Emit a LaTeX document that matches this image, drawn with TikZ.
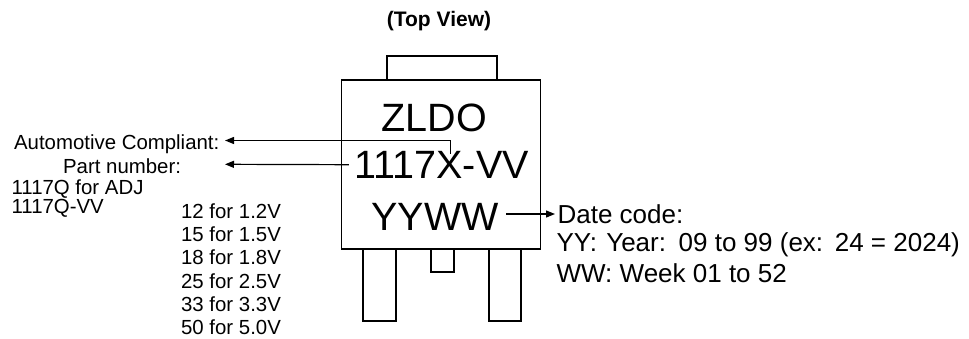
\documentclass[tikz,border=0pt]{standalone}
\usepackage{fontspec}
\setmainfont{Liberation Sans}
\usetikzlibrary{arrows.meta}

\begin{document}
\begin{tikzpicture}[x=1pt,y=-1pt,line width=1.2pt,
    >={Triangle[length=9pt,width=7pt]},
    note/.style={inner sep=0pt,font=\fontsize{20.4}{24}\selectfont},
    code/.style={inner sep=0pt,font=\fontsize{26}{31}\selectfont},
    chiptext/.style={inner sep=0pt,font=\fontsize{39.5}{47}\selectfont}]
        \useasboundingbox (0,0) rectangle (969,339);
        % package outline
        \node[inner sep=0pt,anchor=base,font=\bfseries\fontsize{21}{25}\selectfont] (title) at (439,26.7) {(Top View)};
        \draw (387,56) rectangle (497,80);
        \draw (341.5,80) rectangle (540.5,249);
        \draw (363,249) rectangle (396,321);
        \draw (431,249) rectangle (454,272);
        \draw (489,249) rectangle (521,321);
        % marking
        \node[chiptext,anchor=base] (zldo) at (434.5,131.5) {ZLDO};
        \node[chiptext,anchor=base] (part) at (441.6,178.3) {1117X-VV};
        \node[chiptext,anchor=base] (date) at (435,230) {YYWW};
        % left notes
        \node[note,anchor=base west] (auto) at (13.5,150) {Automotive Compliant:};
        \node[note,anchor=base west] (pnum) at (62.5,173.5) {Part number:};
        \node[note,anchor=base west] (adj) at (11,194.3) {1117Q for ADJ};
        \node[note,anchor=base west] (fix) at (11,214) {1117Q-VV};
        \node[note,anchor=base west] (v12) at (180.5,218.3) {12 for 1.2V};
        \node[note,anchor=base west] (v15) at (180.5,241.6) {15 for 1.5V};
        \node[note,anchor=base west] (v18) at (180.5,264.9) {18 for 1.8V};
        \node[note,anchor=base west] (v25) at (180.5,288.2) {25 for 2.5V};
        \node[note,anchor=base west] (v33) at (180.5,311.5) {33 for 3.3V};
        \node[note,anchor=base west] (v50) at (180.5,334.8) {50 for 5.0V};
        % date code notes
        \node[code,anchor=base west] (dlbl) at (557,223.3) {Date code:};
        \node[code,anchor=base west] (yy) at (556,251.7) {YY:\hspace{2pt} Year:\hspace{3pt} 09 to 99 (ex:\hspace{2pt} 24 = 2024)};
        \node[code,anchor=base west] (ww) at (556,282.3) {WW: Week 01 to 52};
        % arrows
        \coordinate (xtop) at ([xshift=8.5pt,yshift=-3pt]part.north);
        \coordinate (atip) at (225,140.5);
        \coordinate (ptip) at (225,164.3);
        \draw[->] (xtop) |- (atip);
        \draw[->,shorten <=5pt] (part.west) -- (ptip);
        \draw[->,shorten <=7pt,shorten >=2pt] (dlbl.west -| date.east) -- (dlbl.west);
    \end{tikzpicture}
\end{document}
